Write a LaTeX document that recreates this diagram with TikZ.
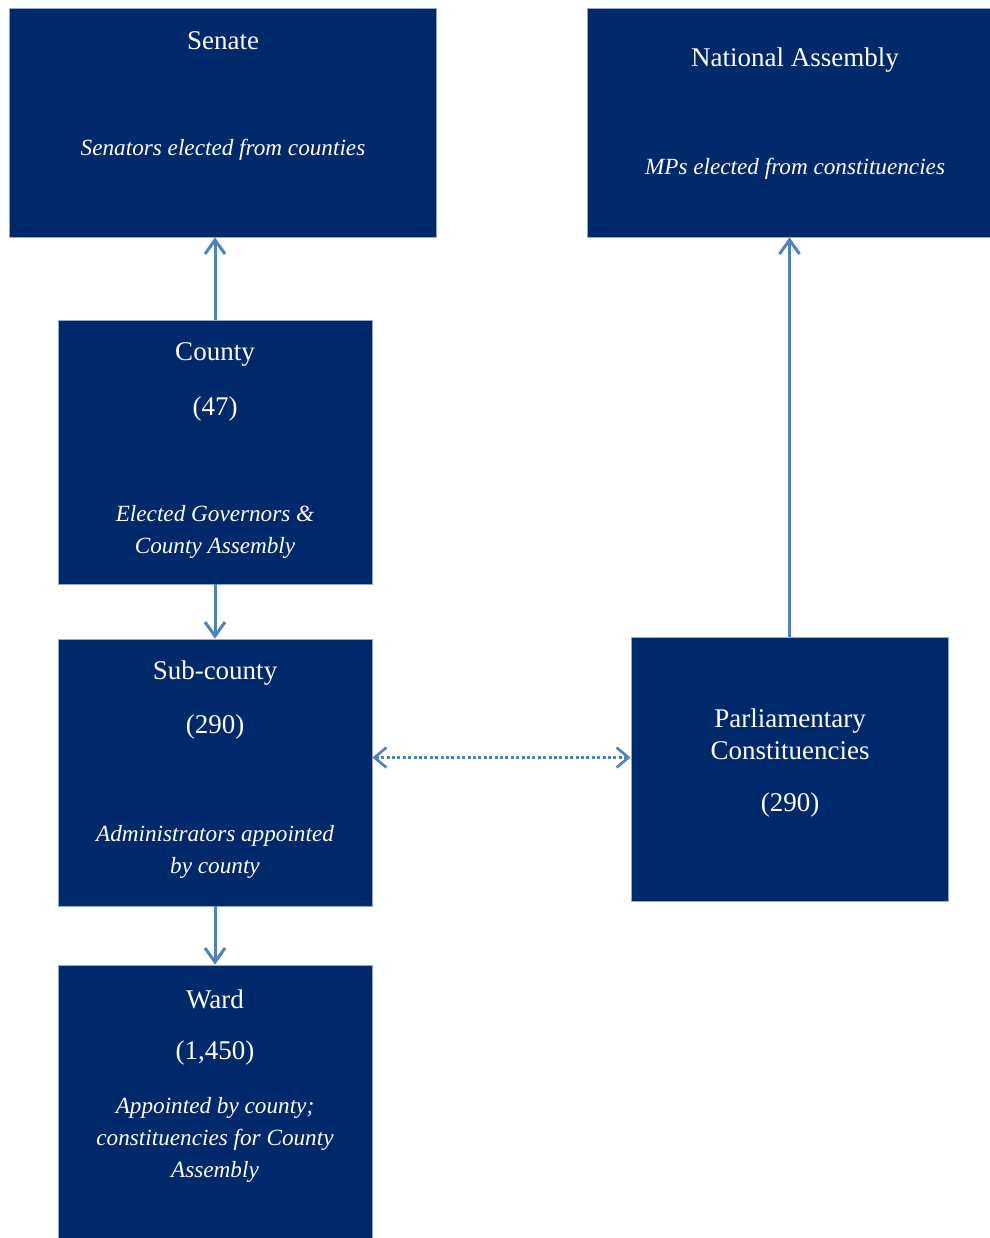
\documentclass[tikz,border=0pt]{standalone}
\usepackage{fontspec}
\setmainfont{Liberation Serif}
\usetikzlibrary{arrows.meta,positioning,fit,calc}
\definecolor{kenavy}{RGB}{0,41,107}
\definecolor{keedge}{RGB}{150,170,200}
\definecolor{kearrow}{RGB}{79,129,189}
\tikzset{
  tier/.style={draw=keedge, line width=0.4pt, fill=kenavy, inner sep=0pt},
  ttl/.style={text=white, font=\fontsize{13.5}{16}\selectfont, align=center, inner sep=0pt},
  note/.style={text=white, font=\fontsize{11.6}{16}\selectfont\itshape, align=center, inner sep=0pt},
  arr/.style={-{Straight Barb[length=7pt,width=10pt]}, draw=kearrow, line width=1.5pt},
  darr/.style={{Straight Barb[length=6pt,width=10pt]}-{Straight Barb[length=6pt,width=10pt]},
    draw=kearrow, line width=1.3pt, dash pattern=on 1.5pt off 1.2pt}
}
\begin{document}
\begin{tikzpicture}[x=0.5pt,y=-0.5pt]
  \useasboundingbox (0,0) rectangle (990,1238);
  % boxes
  \node[tier, fit={(9,8) (436,237)}] (senate) {};
  \node[tier, fit={(587,8) (1003,237)}] (natass) {};
  \node[tier, fit={(58,320) (372,584)}] (county) {};
  \node[tier, fit={(58,639) (372,906)}] (subcounty) {};
  \node[tier, fit={(58,965) (372,1245)}] (ward) {};
  \node[tier, fit={(631,637) (948,901)}] (parl) {};
  % texts
  \node[ttl] (senate-t) at (223,41) {Senate};
  \node[note] (senate-n) at (223,150) {Senators elected from counties};
  \node[ttl] (natass-t) at (795,60) {National Assembly};
  \node[note] (natass-n) at (795,169) {MPs elected from constituencies};
  \node[ttl] (county-t) at (215,354) {County};
  \node[ttl] (county-c) at (215,409) {(47)};
  \node[note] (county-n) at (215,532) {Elected Governors \&\\County Assembly};
  \node[ttl] (subcounty-t) at (215,673) {Sub-county};
  \node[ttl] (subcounty-c) at (215,727) {(290)};
  \node[note] (subcounty-n) at (215,852) {Administrators appointed\\by county};
  \node[ttl] (ward-t) at (215,999) {Ward};
  \node[ttl] (ward-c) at (215,1053) {(1,450)};
  \node[note] (ward-n) at (215,1140) {Appointed by county;\\constituencies for County\\Assembly};
  \node[ttl] (parl-t) at (790,734) {Parliamentary\\Constituencies};
  \node[ttl] (parl-c) at (790,805) {(290)};
  % links
  \draw[arr] (county.north) -- (county.north |- senate.south);
  \draw[arr] (county.south) -- (subcounty.north);
  \draw[arr] (subcounty.south) -- (ward.north);
  \draw[arr] (parl.north) -- (parl.north |- natass.south);
  \draw[darr] ([yshift=7.5pt]subcounty.east) -- ([yshift=7.5pt]subcounty.east -| parl.west);
\end{tikzpicture}
\end{document}
